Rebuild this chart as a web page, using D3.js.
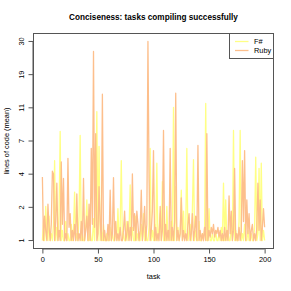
<!DOCTYPE html>
<html><head><meta charset="utf-8">
<script src="https://cdn.jsdelivr.net/npm/d3@7"></script>
<style>body{margin:0;background:#fff}svg{display:block}text{font-family:"Liberation Sans",Arial,Helvetica,sans-serif;fill:#000}</style>
</head><body>
<script>
const title = "Conciseness: tasks compiling successfully";
const xLabel = "task";
const yLabel = "lines of code (mean)";
const seriesNames = ["F#", "Ruby"];
const xTickValues = [0, 50, 100, 150, 200];
const yTickLabels = ["1", "2", "4", "7", "11", "19", "30"];

const fsharp = [
1,1.6,1,2.2,1.3,1,1.8,1,1.2,1,
1.5,5.0,1,1.4,1,1.9,8.0,1,1.3,1,
1,1.6,1,1.2,1,1,1.5,1,1.3,2.9,
1,1.2,1,1.8,7.5,1,1.2,1,1,1.4,
2.5,1,1,1.3,1,1,1.7,1,2.4,10.8,
1,6.3,1,1.3,1,1.5,1,1,1.2,1,
1,1.4,1,1.2,1,1,1.3,1,2.1,1,
1.4,5.0,1,1.2,1,1,1.6,1,1.3,3.3,
1,1.4,1,1,1.8,1,1.2,1,1,1.5,
1,1.9,1,1.3,1,1,1.4,6.1,1,1.3,
1,1.5,1,4.8,1,1.2,1.9,1,3.5,1,
1.2,1,2.2,1,1.3,1,1.6,1,11.5,1,
3.2,1,1.4,1,1.2,3.0,1,2.0,1,1.3,
6.1,1,1.2,1.5,1,2.1,5.1,1,1.3,1,
1,1.6,1,1,1.2,1,1.4,12.2,1,1,
2.1,1,1,1.2,1,1,1.3,1,1,1.2,
1,1.4,1,3.4,1,2.5,1,1.3,1,1,
1.5,1,8.1,1,1.3,1,1,1.6,8.1,1,
1.2,1,1.5,1,1,1.3,1,1,1.2,1,
1,1.4,5.3,1,1.2,4.4,1,4.8,1,1.3,
1];

const ruby = [
3.8,1,1.8,1.3,1,2.3,1.4,1,1.5,4.2,
4.0,1,1.6,3.4,1,1.3,1,4.9,1.5,3.7,
1,1.2,1,5.2,1.4,1.9,1,1.3,1,1.5,
1,2.8,1,1.2,1,1.6,1,3.7,1,1.3,
1.8,1,2.3,1,6.1,1.5,26,1.4,7.7,1,
1.2,3.2,1.6,1,14,1,1.3,1,1,1.5,
1,3.0,1,1.2,3.75,1,1.6,1,1.2,1,
1.4,1,1,1.3,2.0,1,1.2,1.6,1,1.4,
1,4.0,1.3,1.9,1,2.0,1.5,1,1.3,3.0,
1,1.4,2.2,1,1.5,30,3.7,1,1.3,2.0,
5.9,1,1.4,1,1.2,1,2.2,1,1.3,8.1,
1,1.5,1,1.3,1,6.1,1,1.4,1,1.6,
14.2,1,1.3,1,1.2,2.6,1,1.3,1,1.2,
1,1.5,1.9,1,1.2,1.9,1,1.3,1.8,1,
6.4,1,1.3,1,1.2,1,1.4,1,7.7,1,
1.3,1.1,1.4,1.2,1.5,1.1,1.3,1.2,1.4,1.1,
1.3,1,1.2,1,1.4,1,1.3,1,2.7,1.2,
2.0,1,1.3,4.4,1,1.2,1,1.4,1,1.3,
5.0,1.6,5.9,1,2.5,1.2,1.9,1,1.3,1.5,
1,1.2,1,1.4,3.4,1.3,2.5,1,1.4,2.1,
1.4];

const colors = ["#ffff85", "#fdbf8c"];

const W = 291, H = 291;
const box = {left: 33.5, right: 273.5, top: 33.5, bottom: 248.5};
const padX = (box.right - box.left) * 0.04 / 1.08;
const padY = (box.bottom - box.top) * 0.04 / 1.08;
const fs = 7.4;

const svg = d3.select("body").append("svg").attr("width", W).attr("height", H);

const x = d3.scaleLinear().domain([0, 200]).range([box.left + padX, box.right - padX]);
const yLog = d3.scaleLog().domain([2, 31]).range([box.bottom - padY, box.top + padY]);
const y = v => yLog(v + 1);

const line = d3.line().x((d, i) => x(i)).y(d => y(d));

const plot = svg.append("g");
[fsharp, ruby].forEach((s, k) => {
  plot.append("path").datum(s).attr("d", line)
    .attr("fill", "none").attr("stroke", colors[k]).attr("stroke-width", 1.3)
    .attr("stroke-linejoin", "round");
});

// box
svg.append("rect").attr("x", box.left).attr("y", box.top)
  .attr("width", box.right - box.left).attr("height", box.bottom - box.top)
  .attr("fill", "none").attr("stroke", "#555").attr("stroke-width", 1);

// x axis
const xAxis = d3.axisBottom(x).tickValues(xTickValues).tickSize(5).tickPadding(3).tickFormat(d3.format("d"));
const gx = svg.append("g").attr("transform", `translate(0,${box.bottom})`).call(xAxis);
gx.select(".domain").attr("stroke", "#555").attr("d", `M${x(0)},0.5H${x(200)}`);
gx.selectAll(".tick line").attr("stroke", "#555");
gx.selectAll("text").attr("font-size", fs).attr("fill", "#000");

// y axis: evenly spaced ticks on log(v+1) scale with rounded labels
const yr = yLog.range();
const yTickVals = yTickLabels.map((l, k) => yLog.invert(yr[0] + k * (yr[1] - yr[0]) / (yTickLabels.length - 1)) - 1);
const gy = svg.append("g").attr("transform", `translate(${box.left},0)`);
gy.append("path").attr("d", `M-0.5,${y(yTickVals[0])}V${y(yTickVals[yTickVals.length-1])}`).attr("stroke", "#555");
yTickVals.forEach((v, k) => {
  const py = y(v);
  gy.append("line").attr("x1", 0).attr("x2", -5).attr("y1", py).attr("y2", py).attr("stroke", "#555");
  gy.append("text").attr("transform", `translate(-10,${py}) rotate(-90)`)
    .attr("text-anchor", "middle").attr("font-size", fs).text(yTickLabels[k]);
});

// labels
svg.append("text").attr("x", (box.left + box.right) / 2).attr("y", 279)
  .attr("text-anchor", "middle").attr("font-size", fs).text(xLabel);
svg.append("text").attr("transform", `translate(9,${(box.top + box.bottom) / 2}) rotate(-90)`)
  .attr("text-anchor", "middle").attr("font-size", fs).text(yLabel);
svg.append("text").attr("x", (box.left + box.right) / 2).attr("y", 20)
  .attr("text-anchor", "middle").attr("font-size", 8.2).attr("font-weight", "bold").text(title);

// legend
const lg = svg.append("g");
lg.append("rect").attr("x", 229.5).attr("y", box.top).attr("width", box.right - 229.5).attr("height", 25)
  .attr("fill", "#fff").attr("stroke", "#555");
seriesNames.forEach((n, k) => {
  const ly = box.top + 8 + k * 9;
  lg.append("line").attr("x1", 235).attr("x2", 248.5).attr("y1", ly).attr("y2", ly)
    .attr("stroke", colors[k]).attr("stroke-width", 1.3);
  lg.append("text").attr("x", 254).attr("y", ly + 2.6).attr("font-size", fs).text(n);
});
</script>
</body></html>
